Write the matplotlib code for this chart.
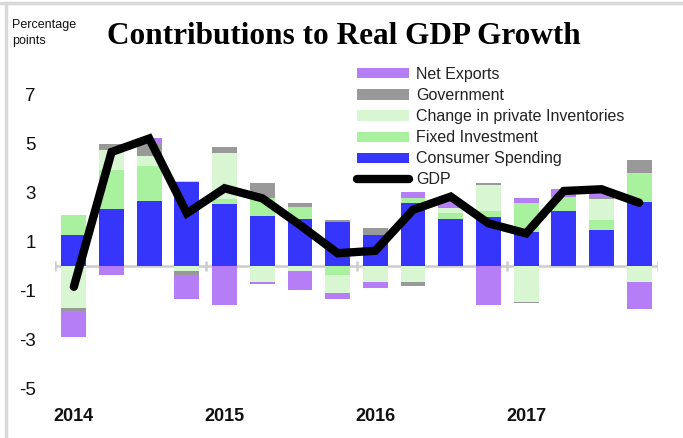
"""Contributions to Real GDP Growth -- stacked contributions with GDP line."""

import numpy as np
import matplotlib
matplotlib.use("Agg")
import matplotlib.pyplot as plt
from matplotlib.lines import Line2D
from matplotlib.patches import Patch

# quarterly data, 2014Q1 .. 2017Q4 (percentage points)
quarters = [f"{y}Q{q}" for y in range(2014, 2018) for q in range(1, 5)]
year_labels = ["2014", "2015", "2016", "2017"]

consumer = [1.27, 2.33, 2.67, 3.42, 2.53, 2.05, 1.90, 1.81, 1.27, 2.58, 1.90, 2.01, 1.40, 2.26, 1.47, 2.60]
fixed_inv = [0.80, 1.59, 1.41, 0.03, 0.20, 0.71, 0.50, -0.37, 0.00, 0.18, 0.28, 0.23, 1.18, 0.57, 0.41, 1.21]
inventories = [-1.70, 0.81, 0.41, -0.19, 1.87, -0.64, -0.19, -0.72, -0.64, -0.64, 0.18, 1.06, -1.46, 0.00, 0.84, -0.64]
government = [-0.13, 0.24, 0.48, -0.18, 0.24, 0.64, 0.18, 0.07, 0.27, -0.18, 0.04, 0.10, -0.04, 0.00, 0.11, 0.52]
net_exports = [-1.05, -0.37, 0.24, -0.97, -1.60, -0.08, -0.79, -0.26, -0.27, 0.27, 0.28, -1.60, 0.18, 0.30, 0.14, -1.13]
gdp = [-0.85, 4.65, 5.20, 2.15, 3.17, 2.76, 1.67, 0.52, 0.62, 2.29, 2.83, 1.74, 1.33, 3.06, 3.13, 2.58]

series = [
    ("Consumer Spending", consumer, "#3535fb"),
    ("Fixed Investment", fixed_inv, "#a9f09f"),
    ("Change in private Inventories", inventories, "#d8f6d2"),
    ("Government", government, "#999999"),
    ("Net Exports", net_exports, "#b57ef6"),
]

plt.rcParams["font.family"] = ["Liberation Sans", "DejaVu Sans"]
plt.rcParams["axes.unicode_minus"] = False

fig = plt.figure(figsize=(6.83, 4.38), dpi=100)
ax = fig.add_axes([55 / 683, 1 - 400.75 / 438, 603 / 683, 335.75 / 438])

x = np.arange(len(quarters))
pos_base = np.zeros(len(x))
neg_base = np.zeros(len(x))
for name, vals, col in series:
    v = np.asarray(vals, dtype=float)
    base = np.where(v >= 0, pos_base, neg_base)
    ax.bar(x, v, bottom=base, width=0.66, color=col, edgecolor="none", zorder=2)
    pos_base += np.clip(v, 0, None)
    neg_base += np.clip(v, None, 0)

ax.plot(x, gdp, color="black", lw=6, solid_capstyle="round",
        solid_joinstyle="miter", zorder=4)

# zero line with year-boundary ticks
ax.axhline(0, color="#cccccc", lw=1.8, zorder=1)
ax.vlines([-0.5, 3.5, 7.5, 11.5, 15.5], -0.22, 0.22, color="#cccccc", lw=1.8, zorder=1)

ax.set_xlim(-0.5, 15.5)
ax.set_ylim(-5.5, 8.2)
ax.set_yticks([7, 5, 3, 1, -1, -3, -5])
ax.set_xticks([0, 4, 8, 12])
ax.set_xticklabels(year_labels, fontweight="bold", fontsize=13)
ax.tick_params(axis="y", length=0, pad=14, labelsize=13.5, labelcolor="#111111")
ax.tick_params(axis="x", length=0, pad=5, labelcolor="#111111")
for s in ax.spines.values():
    s.set_visible(False)
ax.set_facecolor("none")

# legend (top to bottom: reverse of stacking order, then GDP)
handles = [Patch(facecolor=c, edgecolor="none", label=n) for n, _, c in reversed(series)]
handles.append(Line2D([], [], color="black", lw=6, solid_capstyle="round", label="GDP"))
fig.legend(handles=handles, loc="upper left", bbox_to_anchor=(357 / 683, 1 - 67 / 438),
           frameon=False, fontsize=11.5, handlelength=3.25, handleheight=0.6,
           handletextpad=0.45, labelspacing=0.38, borderpad=0, borderaxespad=0,
           labelcolor="#222222")

fig.text(107 / 683, 1 - 36 / 438, "Contributions to Real GDP Growth",
         family=["Liberation Serif"], fontweight="bold", fontsize=22.5, va="center", ha="left")
fig.text(12 / 683, 1 - 33 / 438, "Percentage\npoints", fontsize=9,
         va="center", ha="left", linespacing=1.45, color="#111111")

# light frame lines at the top and left edges
fig.add_artist(Line2D([0, 1], [1 - 3 / 438] * 2, color="#d9d9d9", lw=2.5))
fig.add_artist(Line2D([6 / 683] * 2, [0, 1 - 3 / 438], color="#d9d9d9", lw=2.5))

fig.savefig("out.png", dpi=100)
